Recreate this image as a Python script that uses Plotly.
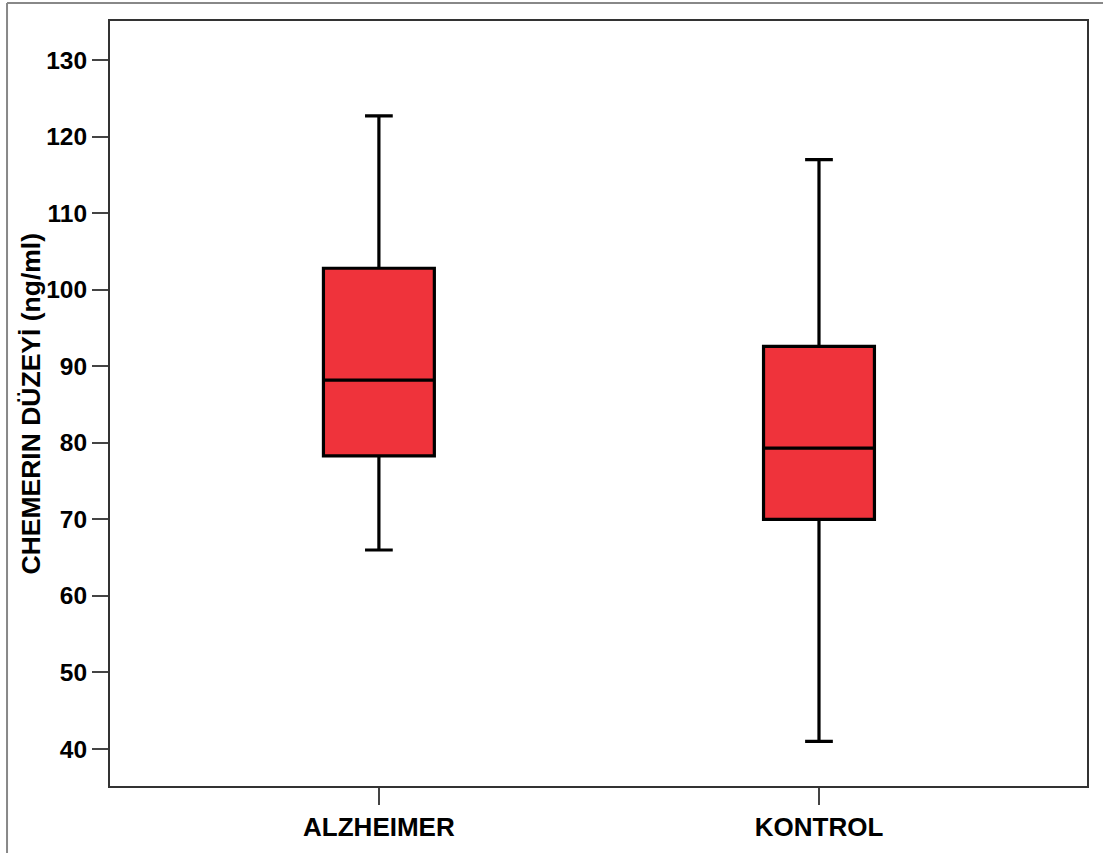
import plotly.graph_objects as go

# Data
groups = ["ALZHEIMER", "KONTROL"]
lower_whisker = [66.0, 41.0]
q1_values = [78.3, 70.0]
median_values = [88.2, 79.3]
q3_values = [102.8, 92.6]
upper_whisker = [122.7, 117.0]
y_ticks = [40, 50, 60, 70, 80, 90, 100, 110, 120, 130]
y_title = "CHEMERIN DÜZEYİ (ng/ml)"

FONT = "Liberation Sans, Arial, sans-serif"
FILL = "#EF333B"

fig = go.Figure()
fig.add_trace(go.Box(
    x=groups,
    q1=q1_values,
    median=median_values,
    q3=q3_values,
    lowerfence=lower_whisker,
    upperfence=upper_whisker,
    boxpoints=False,
    width=0.252,
    whiskerwidth=0.25,
    fillcolor=FILL,
    line=dict(color="black", width=3.2),
    showlegend=False,
    hoverinfo="y",
))

axis_line = dict(showline=True, linecolor="#333333", linewidth=2, mirror=True)

fig.update_layout(
    width=1103,
    height=853,
    margin=dict(l=110, r=16, t=21, b=67),
    paper_bgcolor="white",
    plot_bgcolor="white",
    font=dict(family=FONT, color="black"),
    xaxis=dict(
        type="category",
        range=[-0.611, 1.609],
        ticks="outside",
        ticklen=17,
        tickwidth=1.5,
        tickcolor="#444444",
        tickfont=dict(family=FONT, size=26, weight="bold", color="black"),
        showgrid=False,
        zeroline=False,
        **axis_line,
    ),
    yaxis=dict(
        range=[35.17, 135.1],
        tickvals=y_ticks,
        ticks="outside",
        ticklen=16,
        tickwidth=2,
        tickcolor="#444444",
        tickfont=dict(family=FONT, size=24.5, weight="bold", color="black"),
        showgrid=False,
        zeroline=False,
        **axis_line,
    ),
    annotations=[
        dict(text=y_title, xref="paper", yref="paper", x=0, y=0.5,
             xanchor="center", yanchor="middle", xshift=-80, textangle=-90,
             showarrow=False, font=dict(family=FONT, size=26.5, weight="bold", color="black")),
    ],
    shapes=[
        dict(type="line", xref="paper", yref="paper", x0=-0.1054, x1=1.05, y0=1.0235, y1=1.0235,
             line=dict(color="#888888", width=2)),
        dict(type="line", xref="paper", yref="paper", x0=-0.1054, x1=-0.1054, y0=-0.1, y1=1.0235,
             line=dict(color="#888888", width=2)),
    ],
)

fig.write_html("out.html", config={"displayModeBar": False},
               post_script="document.body.style.margin='0';")
